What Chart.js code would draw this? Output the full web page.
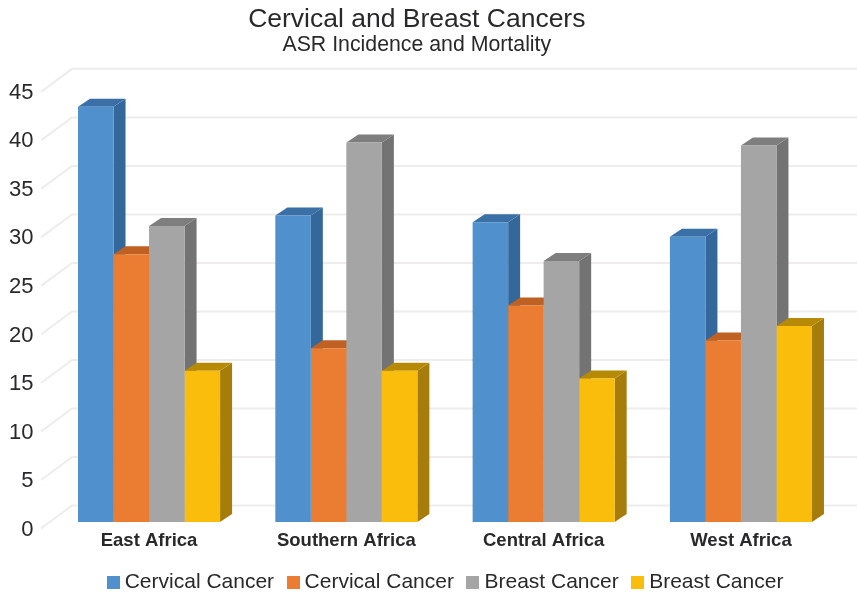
<!DOCTYPE html>
<html>
<head>
<meta charset="utf-8">
<title>Cervical and Breast Cancers</title>
<script src="https://cdn.jsdelivr.net/npm/chart.js@4"></script>
<style>
    html, body { margin: 0; padding: 0; background: #fff; }
    canvas { display: block; }
</style>
</head>
<body>
<canvas id="asrChart" width="857" height="592"></canvas>
<script>
const regions = ['East Africa', 'Southern Africa', 'Central Africa', 'West Africa'];
const cervicalIncidence = [42.8, 31.6, 30.9, 29.4];
const cervicalMortality = [27.6, 17.9, 22.3, 18.7];
const breastIncidence = [30.5, 39.1, 26.9, 38.8];
const breastMortality = [15.6, 15.6, 14.8, 20.2];

// front, side and top colour of each series
const shades = [
    { front: '#4f90cd', side: '#35689a', top: '#3a70a5' },
    { front: '#ea7d31', side: '#b85d20', top: '#bf6122' },
    { front: '#a5a5a5', side: '#737373', top: '#7e7e7e' },
    { front: '#fbbd0b', side: '#a67d0a', top: '#b68a07' }
];

const depthX = 12, depthY = 8; // bar depth
const wallX = 72, wallDrop = 16.5, tipX = 41, tipRise = 6.5; // back wall and side wall
const textColor = '#29292b';
const fontName = '"Liberation Sans", Arial, sans-serif';

// back wall and side wall lines, one per y tick
const wallGrid = {
    id: 'wallGrid',
    beforeDatasetsDraw(chart) {
        const { ctx, scales: { y } } = chart;
        ctx.save();
        ctx.strokeStyle = '#eeecec';
        ctx.lineWidth = 2;
        y.ticks.forEach(t => {
            const py = y.getPixelForValue(t.value);
            ctx.beginPath();
            ctx.moveTo(tipX, py + tipRise);
            ctx.lineTo(wallX, py - wallDrop);
            ctx.lineTo(chart.width, py - wallDrop);
            ctx.stroke();
        });
        ctx.restore();
    }
};

// side and top faces, left bar first; the library paints the fronts over them afterwards
const barDepth = {
    id: 'barDepth',
    beforeDatasetsDraw(chart) {
        const { ctx } = chart;
        ctx.save();
        chart.data.datasets.forEach((d, i) => {
            const colors = shades[i];
            chart.getDatasetMeta(i).data.forEach(bar => {
                const p = bar.getProps(['x', 'y', 'base', 'width'], true);
                const l = p.x - p.width / 2, r = p.x + p.width / 2;
                ctx.fillStyle = colors.side;
                ctx.beginPath();
                ctx.moveTo(r, p.y);
                ctx.lineTo(r + depthX, p.y - depthY);
                ctx.lineTo(r + depthX, p.base - depthY);
                ctx.lineTo(r, p.base);
                ctx.closePath();
                ctx.fill();
                ctx.fillStyle = colors.top;
                ctx.beginPath();
                ctx.moveTo(l, p.y);
                ctx.lineTo(l + depthX, p.y - depthY);
                ctx.lineTo(r + depthX, p.y - depthY);
                ctx.lineTo(r, p.y);
                ctx.closePath();
                ctx.fill();
            });
        });
        ctx.restore();
    }
};

// the legend row sits right of the title's centre
const legendShift = {
    id: 'legendShift',
    afterLayout(chart) {
        chart.legend.left += 31;
        chart.legend.right += 31;
    }
};

// small square swatch for the legend
function swatch(color) {
    const c = document.createElement('canvas');
    c.width = 13;
    c.height = 13;
    const g = c.getContext('2d');
    g.fillStyle = color;
    g.fillRect(0, 0, 13, 13);
    return c;
}

function series(label, data, i) {
    return {
        label: label,
        data: data,
        backgroundColor: shades[i].front,
        borderWidth: 0
    };
}

new Chart(document.getElementById('asrChart'), {
    type: 'bar',
    data: {
        labels: regions,
        datasets: [
            series('Cervical Cancer', cervicalIncidence, 0),
            series('Cervical Cancer', cervicalMortality, 1),
            series('Breast Cancer', breastIncidence, 2),
            series('Breast Cancer', breastMortality, 3)
        ]
    },
    options: {
        responsive: false,
        animation: false,
        datasets: { bar: { categoryPercentage: 0.72, barPercentage: 1 } },
        layout: { padding: { left: -6, right: 17.4, top: 4, bottom: -11 } },
        scales: {
            x: {
                grid: { display: false, drawTicks: false },
                border: { display: false },
                afterFit(scale) { scale.height = 32; },
                ticks: {
                    color: textColor,
                    padding: 8,
                    maxRotation: 0,
                    font: { family: fontName, size: 18.5, weight: 'bold' }
                }
            },
            y: {
                min: 0,
                max: 45,
                grid: { display: false, drawTicks: false },
                border: { display: false },
                afterFit(scale) { scale.width = 56.4; },
                ticks: {
                    stepSize: 5,
                    color: textColor,
                    padding: 17,
                    labelOffset: 7.5,
                    font: { family: fontName, size: 22 }
                }
            }
        },
        plugins: {
            title: {
                display: true,
                text: 'Cervical and Breast Cancers',
                color: textColor,
                padding: { top: 0, bottom: -3 },
                font: { family: fontName, size: 26.5, weight: 'normal' }
            },
            subtitle: {
                display: true,
                text: 'ASR Incidence and Mortality',
                color: textColor,
                padding: { top: 0, bottom: 27 },
                font: { family: fontName, size: 21.3, weight: 'normal' }
            },
            legend: {
                position: 'bottom',
                labels: {
                    usePointStyle: true,
                    boxWidth: 2,
                    padding: 18,
                    color: textColor,
                    font: { family: fontName, size: 21 },
                    generateLabels(chart) {
                        return chart.data.datasets.map((d, i) => ({
                            text: d.label,
                            datasetIndex: i,
                            pointStyle: swatch(d.backgroundColor),
                            fontColor: textColor
                        }));
                    }
                }
            },
            tooltip: { enabled: false }
        }
    },
    plugins: [wallGrid, barDepth, legendShift]
});
</script>
</body>
</html>
